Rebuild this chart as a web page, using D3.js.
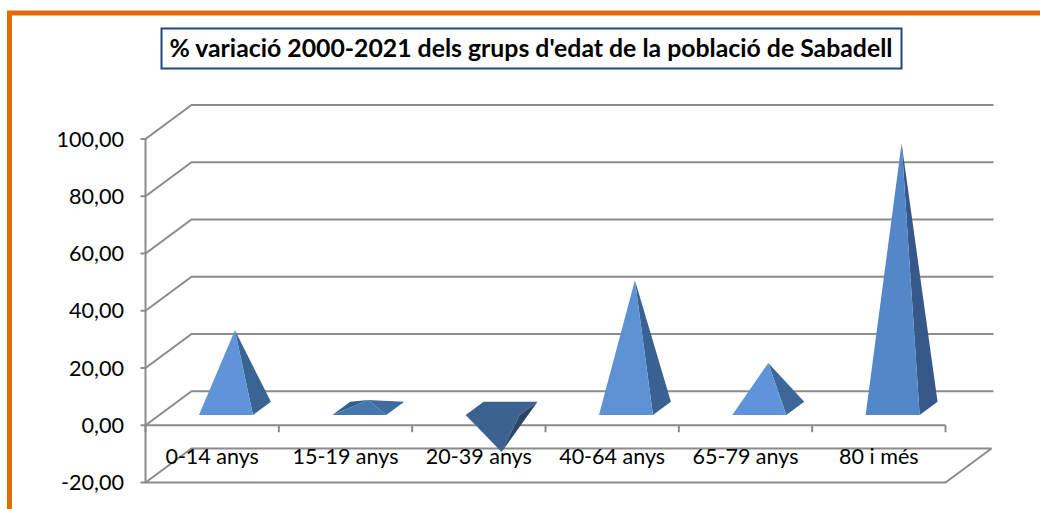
<!DOCTYPE html>
<html>
<head>
<meta charset="utf-8">
<script src="https://cdn.jsdelivr.net/npm/d3@7"></script>
<style>
    html, body { margin: 0; padding: 0; background: #fff; overflow: hidden; }
    text { font-family: Lato, "Open Sans", sans-serif; fill: #000; }
</style>
</head>
<body>
<div id="chart"></div>
<script>
// Chart data
const categories = ["0-14 anys", "15-19 anys", "20-39 anys", "40-64 anys", "65-79 anys", "80 i més"];
const values = [27.3, 2.9, -15.2, 44.8, 15.9, 92.6];
const yTicks = [-20, 0, 20, 40, 60, 80, 100];
const titleText = "% variació 2000-2021 dels grups d'edat de la població de Sabadell";

const width = 1040, height = 509;

// front plane of the 3d box, depth goes up and to the right
const left = 145.5, right = 945.5;
const depthX = 46, depthY = -34;

const svg = d3.select("#chart").append("svg")
    .attr("width", width)
    .attr("height", height);

const x = d3.scaleBand().domain(categories).range([left, right]);
const y = d3.scaleLinear().domain([-20, 100]).range([482.5, 139]);

// depth: 0 is the front wall, 1 the back wall
function project(px, value, depth) {
    return [px + depth * depthX, y(value) + depth * depthY];
}

const path = d3.line();
const gridColor = "#8c8c8c";

// orange frame
svg.append("path")
    .attr("d", path([[9.5, height], [9.5, 13], [width, 13]]))
    .attr("fill", "none")
    .attr("stroke", "#e36c0a")
    .attr("stroke-width", 5);

// title box
const titleGroup = svg.append("g");
titleGroup.append("rect")
    .attr("x", 161.5).attr("y", 28.5)
    .attr("width", 740).attr("height", 40)
    .attr("fill", "#fff")
    .attr("stroke", "#1f497d")
    .attr("stroke-width", 2);
titleGroup.append("text")
    .attr("x", 531).attr("y", 57)
    .attr("text-anchor", "middle")
    .attr("font-size", 24.8)
    .attr("font-weight", 700)
    .text(titleText);

// gridlines: side wall then back wall
const grid = svg.append("g")
    .attr("fill", "none")
    .attr("stroke", gridColor)
    .attr("stroke-width", 2);

yTicks.forEach(t => {
    const back = project(right, t, 1);
    grid.append("path").attr("d", path([
        [left - 5, y(t)],
        project(left, t, 0),
        project(left, t, 1),
        t === -20 ? back : [back[0] + 2, back[1]]
    ]));
});

// floor edge at the bottom
grid.append("path").attr("d", path([
    project(left, -20, 0),
    project(right, -20, 0),
    project(right, -20, 1)
]));

// value axis and category axis on the front plane
grid.append("path").attr("d", path([[left, y(100)], [left, y(-20)]]));
grid.append("path").attr("d", path([project(left, 0, 0), project(right, 0, 0)]));

const boundaries = categories.map(c => x(c)).concat([right]);
boundaries.forEach(b => {
    grid.append("path").attr("d", path([[b, y(0)], [b, y(0) + 7]]));
});

// y labels
svg.append("g").selectAll("text")
    .data(yTicks)
    .join("text")
    .attr("x", 124)
    .attr("y", d => y(d) + 7.5)
    .attr("text-anchor", "end")
    .attr("font-size", 21.6)
    .text(d => d3.format(".2f")(d).replace(".", ",").replace("\u2212", "-"));

// x labels
svg.append("g").selectAll("text")
    .data(categories)
    .join("text")
    .attr("x", d => x(d) + x.bandwidth() / 2)
    .attr("y", 464)
    .attr("text-anchor", "middle")
    .attr("font-size", 21.5)
    .text(d => d);

// faces get lighter as the pyramid gets steeper, flat ones look darker
const frontColor = d3.scaleLinear()
    .domain([2.9, 15, 30, 95])
    .range(["#4477ae", "#5f95d8", "#5f95d8", "#5486c6"]);
const sideColor = d3.scaleLinear()
    .domain([2.9, 30, 95])
    .range(["#3f6b9e", "#3a6393", "#36598a"]);

const nearDepth = 0.3, farDepth = 0.69;

const pyramids = svg.append("g");

categories.forEach((c, i) => {
    const v = values[i];
    const cx = x(c) + x.bandwidth() / 2;
    const half = x.bandwidth() * 0.2025;

    const fl = project(cx - half, 0, nearDepth);
    const fr = project(cx + half, 0, nearDepth);
    const bl = project(cx - half, 0, farDepth);
    const br = project(cx + half, 0, farDepth);
    const apex = project(cx, v, (nearDepth + farDepth) / 2);

    const g = pyramids.append("g");
    if (v < 0) {
        // upside down: the base is seen from above
        g.append("path").attr("d", path([fl, bl, br, fr]) + "Z").attr("fill", "#3c638f");
        g.append("path").attr("d", path([fl, fr, apex]) + "Z").attr("fill", "#3c638f");
        g.append("path").attr("d", path([fr, br, apex]) + "Z").attr("fill", "#2a4568");
    } else {
        // left face only shows on the very flat one
        if (apex[1] > bl[1] - 10) {
            g.append("path").attr("d", path([fl, bl, apex]) + "Z").attr("fill", "#33608f");
        }
        g.append("path").attr("d", path([fr, br, apex]) + "Z").attr("fill", sideColor(v));
        g.append("path").attr("d", path([fl, fr, apex]) + "Z").attr("fill", frontColor(v));
    }
});
</script>
</body>
</html>
